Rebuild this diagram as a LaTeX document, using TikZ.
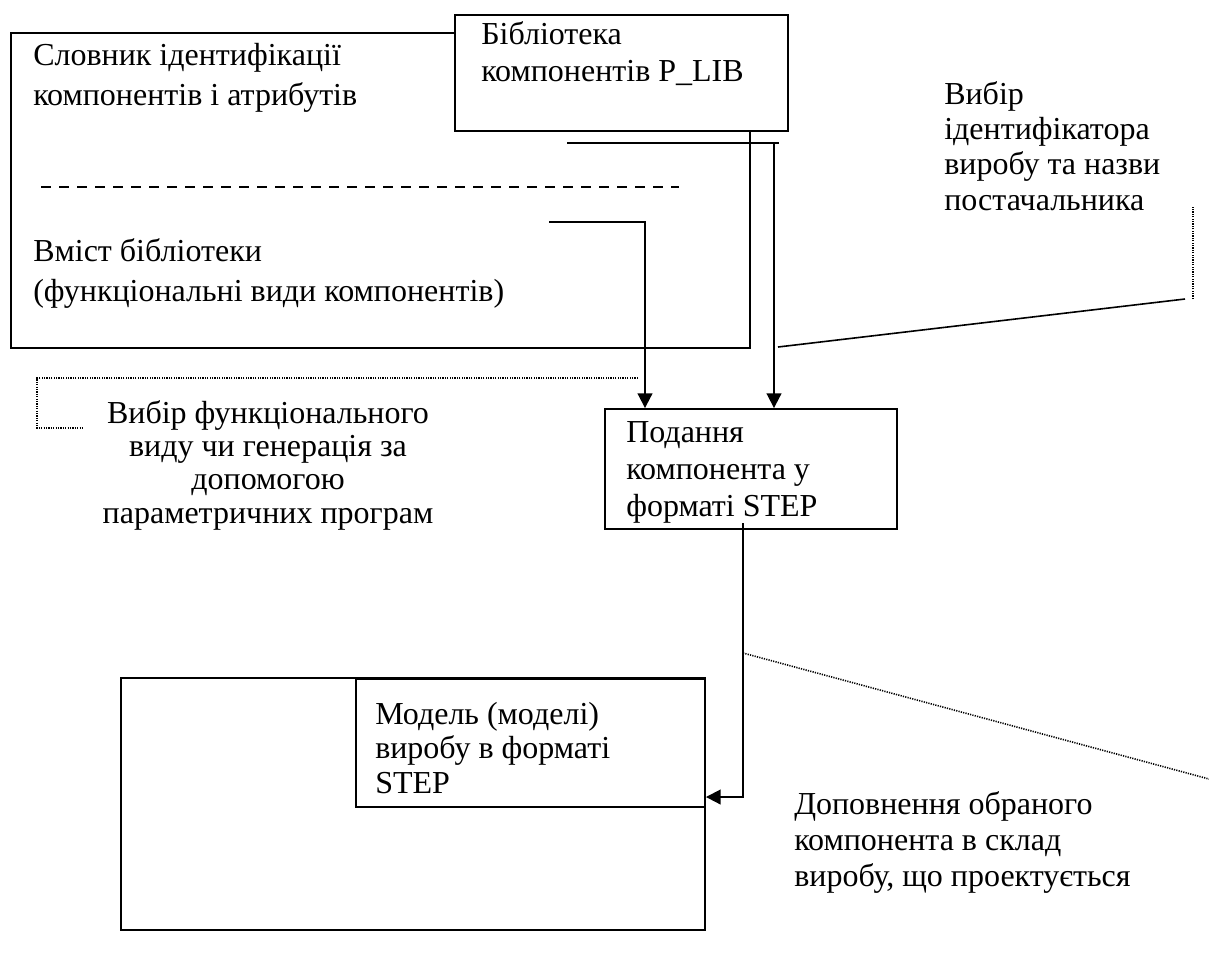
\documentclass[tikz,border=0pt]{standalone}
\usepackage{fontspec}
\setmainfont{Liberation Serif}
\usetikzlibrary{arrows.meta,fit}

% one block of text whose reference point is the baseline of its first line
\newcommand{\textblock}[2]{\parbox[t]{#1}{\raggedright #2}}
\newcommand{\centerblock}[2]{\parbox[t]{#1}{\centering #2}}
% body size with a chosen line pitch (in pt)
\newcommand{\bodyfont}[1]{\fontsize{24}{#1}\selectfont}

\begin{document}
\begin{tikzpicture}[x=0.75pt,y=-0.75pt,
  box/.style={draw, line width=1.4pt, inner sep=0pt},
  whitebox/.style={box, fill=white},
  txt/.style={inner sep=0pt, anchor=base west},
  wire/.style={line width=1.4pt},
  flow/.style={wire, -{Triangle[length=11pt,width=11pt]}},
  dots/.style={line width=1.2pt, dash pattern=on 0.9pt off 0.9pt},
  dashes/.style={line width=1.3pt, dash pattern=on 7.5pt off 6pt}]
\useasboundingbox (0,0) rectangle (1209,965);

% dictionary / library contents frame and the library box on top of it
\node[box, fit={(11,33) (750,348)}] (dict) {};
\node[whitebox, fit={(455,15) (788,131)}] (plib) {};
\node[txt, font=\bodyfont{27.75}] (plibtxt) at (481,44)
  {\textblock{300pt}{Бібліотека\\компонентів P\_LIB}};
\node[txt, font=\bodyfont{30}] (dicttxt) at (33,65)
  {\textblock{420pt}{Словник ідентифікації\\компонентів і атрибутів}};
\draw[dashes] (41,187) -- (679,187);
\node[txt, font=\bodyfont{30}] (contents) at (33,261)
  {\textblock{440pt}{Вміст бібліотеки\\(функціональні види компонентів)}};

% STEP representation of a component
\node[box, fit={(605,409) (897,529)}] (step) {};
\node[txt, font=\bodyfont{27.75}] (steptxt) at (626,442)
  {\textblock{210pt}{Подання\\компонента у\\форматі STEP}};

% product model frame with the model box on top of it
\node[box, fit={(121,678) (705,930)}] (prod) {};
\node[whitebox, fit={(356,679) (705,807)}] (model) {};
\node[txt, font=\bodyfont{26}] (modeltxt) at (375,724)
  {\textblock{250pt}{Модель (моделі)\\виробу в форматі\\STEP}};

% free captions
\node[txt, font=\bodyfont{26.5}] (selid) at (944,104)
  {\textblock{200pt}{Вибір\\ідентифікатора\\виробу та назви\\постачальника}};
\node[txt, anchor=base, font=\bodyfont{25}] (selfn) at (268,423)
  {\centerblock{270pt}{Вибір функціонального\\виду чи генерація за\\допомогою\\параметричних програм}};
\node[txt, font=\bodyfont{27}] (addc) at (794,814)
  {\textblock{300pt}{Доповнення обраного\\компонента в склад\\виробу, що проектується}};

% connector ends
\coordinate (libA) at (567,143);
\coordinate (libB) at (779,143);
\coordinate (libC) at (774,143);
\coordinate (fnA) at (549,222);
\coordinate (fnB) at (645,222);
\coordinate (stepOut) at (743,523);
\coordinate (stepTurn) at (743,797);
\coordinate (selA) at (778,347);
\coordinate (selB) at (1185,299);
\coordinate (selC) at (1193,299);
\coordinate (selD) at (1193,206);
\coordinate (fnL1) at (638,378);
\coordinate (fnL2) at (37,378);
\coordinate (fnL3) at (37,428);
\coordinate (fnL4) at (83,428);
\coordinate (addA) at (743,653);
\coordinate (addB) at (1209,779);

% flows
\draw[wire] (libA) -- (libB);
\draw[flow] (libC) -- (libC |- step.north);
\draw[flow] (fnA) -- (fnB) -- (fnB |- step.north);
\draw[flow] (stepOut) -- (stepTurn) -- (model.east |- stepTurn);

% leader lines to the captions
\draw[line width=1.2pt] (selA) -- (selB);
\draw[dots] (selC) -- (selD);
\draw[dots] (fnL1) -- (fnL2) -- (fnL3) -- (fnL4);
\draw[dots] (addA) -- (addB);
\end{tikzpicture}
\end{document}
